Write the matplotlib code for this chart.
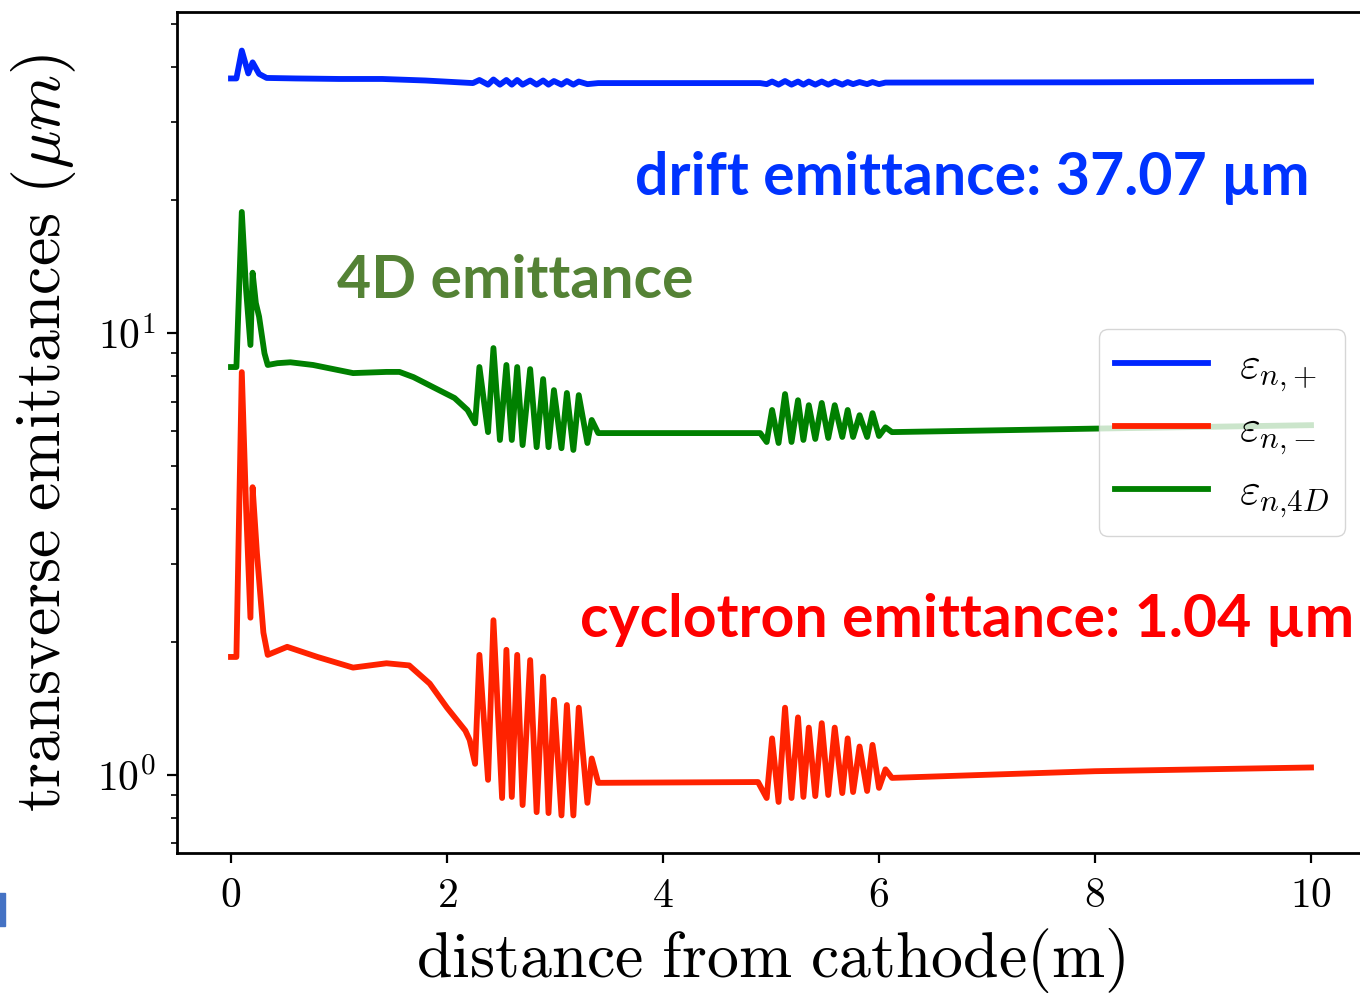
import math
import matplotlib
matplotlib.use('Agg')
import matplotlib.pyplot as plt
from matplotlib.ticker import FuncFormatter, FixedLocator, LogLocator, NullFormatter
from matplotlib.patches import Rectangle

plt.rcParams['mathtext.fontset'] = 'cm'
plt.rcParams['axes.unicode_minus'] = False

# distance from cathode (m)
z_plus = [0.0, 0.05, 0.10, 0.16, 0.20, 0.26, 0.33, 0.60, 1.00, 1.40, 1.80, 2.24,
          2.30, 2.38, 2.43, 2.49, 2.55, 2.60, 2.65, 2.70, 2.77, 2.83, 2.89, 2.94, 2.99, 3.06,
          3.11, 3.17, 3.22, 3.30, 3.40,
          4.90, 4.96, 5.01, 5.07, 5.13, 5.19, 5.25, 5.30, 5.35, 5.41, 5.47, 5.53, 5.59, 5.66,
          5.71, 5.76, 5.82, 5.89, 5.94, 6.00, 6.06,
          8.0, 10.0]
# drift emittance (um)
eps_plus = [37.7, 37.7, 43.6, 38.7, 41.0, 38.6, 37.8, 37.7, 37.6, 37.6, 37.3, 36.8,
            37.4, 36.5, 37.5, 36.5, 37.4, 36.5, 37.4, 36.5, 37.3, 36.5, 37.3, 36.5, 37.2, 36.5,
            37.2, 36.5, 37.1, 36.6, 36.8,
            36.8, 36.6, 37.1, 36.5, 37.2, 36.5, 37.1, 36.5, 37.1, 36.5, 37.1, 36.5, 37.1, 36.5,
            37.0, 36.6, 37.0, 36.6, 37.0, 36.6, 36.9,
            36.95, 37.07]

z_minus = [0.0, 0.05, 0.10, 0.14, 0.18, 0.20, 0.24, 0.30, 0.34, 0.52, 0.80, 1.13, 1.44, 1.65,
           1.84, 2.00, 2.17, 2.21, 2.26,
           2.30, 2.38, 2.43, 2.51, 2.55, 2.60, 2.65, 2.70, 2.77, 2.83, 2.89, 2.94, 2.99, 3.06,
           3.11, 3.17, 3.22, 3.30, 3.34, 3.40,
           4.88, 4.96, 5.01, 5.07, 5.13, 5.19, 5.25, 5.30, 5.35, 5.41, 5.47, 5.53, 5.59, 5.66,
           5.71, 5.76, 5.82, 5.89, 5.94, 6.00, 6.06, 6.12,
           8.0, 10.0]
# cyclotron emittance (um)
eps_minus = [1.85, 1.85, 8.16, 4.0, 2.27, 4.48, 3.18, 2.10, 1.87, 1.95, 1.85, 1.75, 1.79, 1.77,
             1.61, 1.42, 1.26, 1.20, 1.06,
             1.87, 0.975, 2.24, 0.887, 1.92, 0.892, 1.87, 0.855, 1.82, 0.824, 1.67, 0.82, 1.48, 0.81,
             1.44, 0.81, 1.42, 0.865, 1.09, 0.96,
             0.964, 0.887, 1.21, 0.869, 1.42, 0.887, 1.35, 0.892, 1.28, 0.896, 1.31, 0.901, 1.28, 0.91,
             1.21, 0.915, 1.16, 0.92, 1.17, 0.935, 1.03, 0.985,
             1.02, 1.04]

z_4d = [0.0, 0.05, 0.10, 0.14, 0.18, 0.20, 0.23, 0.26, 0.31, 0.34, 0.43, 0.55, 0.76, 1.13, 1.44,
        1.56, 1.69, 1.87, 2.07, 2.19, 2.26,
        2.30, 2.38, 2.43, 2.49, 2.55, 2.60, 2.65, 2.70, 2.77, 2.83, 2.89, 2.94, 2.99, 3.06,
        3.11, 3.17, 3.22, 3.30, 3.34, 3.40,
        4.90, 4.96, 5.01, 5.07, 5.13, 5.19, 5.25, 5.30, 5.35, 5.41, 5.47, 5.53, 5.59, 5.66,
        5.71, 5.76, 5.82, 5.89, 5.94, 6.00, 6.06, 6.12,
        8.0, 10.0]
# 4D emittance (um)
eps_4d = [8.38, 8.38, 18.8, 12.5, 9.4, 13.7, 11.7, 10.9, 9.0, 8.47, 8.55, 8.59, 8.47, 8.12, 8.17,
          8.17, 7.95, 7.55, 7.13, 6.70, 6.25,
          8.38, 5.97, 9.25, 5.73, 8.47, 5.73, 8.38, 5.58, 8.29, 5.52, 7.87, 5.52, 7.43, 5.49,
          7.32, 5.44, 7.24, 5.64, 6.36, 5.94,
          5.94, 5.67, 6.70, 5.64, 7.28, 5.67, 7.05, 5.73, 6.87, 5.76, 6.95, 5.79, 6.87, 5.82,
          6.70, 5.82, 6.52, 5.82, 6.59, 5.85, 6.12, 5.97,
          6.08, 6.19]

labels = [r'$\varepsilon_{n{,}+}$', r'$\varepsilon_{n{,}-}$', r'$\varepsilon_{n{,}4D}$']
colors = ['#0026ff', '#ff2200', '#008000']

fig = plt.figure(figsize=(13.6, 9.96), dpi=100)
ax = fig.add_axes([177 / 1360, 143 / 996, 1188 / 1360, 841 / 996])

lw = 4.2
ax.plot(z_plus, eps_plus, color=colors[0], lw=lw, label=labels[0], solid_joinstyle='round')
ax.plot(z_minus, eps_minus, color=colors[1], lw=lw, label=labels[1], solid_joinstyle='round')
ax.plot(z_4d, eps_4d, color=colors[2], lw=lw, label=labels[2], solid_joinstyle='round')

ax.set_yscale('log')
ax.set_xlim(-0.5, 10.5)
ax.set_ylim(0.666, 53.3)

ax.xaxis.set_major_locator(FixedLocator([0, 2, 4, 6, 8, 10]))
ax.xaxis.set_major_formatter(FuncFormatter(lambda v, p: r'$%d$' % v))
ax.yaxis.set_major_locator(FixedLocator([1, 10]))
ax.yaxis.set_major_formatter(FuncFormatter(lambda v, p: r'$10^{%d}$' % round(math.log10(v))))
ax.yaxis.set_minor_locator(LogLocator(base=10, subs=range(2, 10)))
ax.yaxis.set_minor_formatter(NullFormatter())

ax.tick_params(which='major', length=7, width=1.6, labelsize=30, pad=8)
ax.tick_params(which='minor', length=4, width=1.2)
for s in ax.spines.values():
    s.set_linewidth(2.0)

ax.set_xlabel(r'$\mathrm{distance\ from\ cathode(m)}$', fontsize=46, labelpad=7)
ax.set_ylabel(r'$\mathrm{transverse\ emittances}\ (\mu m)$', fontsize=46, labelpad=14)

ax.legend(loc='center right', fontsize=32, handlelength=2.1, labelspacing=0.3,
          borderpad=0.35, handletextpad=0.7, borderaxespad=0.45)

# slide annotations
fig.text(635 / 1360, (996 - 195) / 996, 'drift emittance: 37.07 µm', color='#0033ff',
         fontsize=42.5, fontweight='bold', family='Lato', ha='left', va='baseline')
fig.text(337 / 1360, (996 - 298) / 996, '4D emittance', color='#548235',
         fontsize=42.5, fontweight='bold', family='Lato', ha='left', va='baseline')
fig.text(580 / 1360, (996 - 637) / 996, 'cyclotron emittance: 1.04 µm', color='#ff0000',
         fontsize=42.5, fontweight='bold', family='Lato', ha='left', va='baseline')

fig.patches.append(Rectangle((-0.004, (996 - 926) / 996), 0.0075, 33 / 996,
                             transform=fig.transFigure, color='#4472c4', zorder=5))

fig.savefig('out.png', dpi=100)
